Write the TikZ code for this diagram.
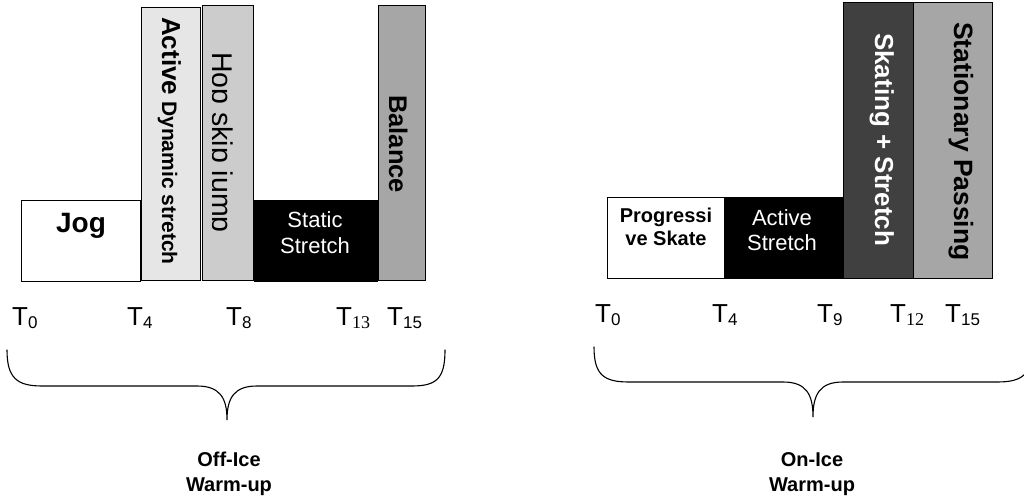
\documentclass[tikz,border=0pt]{standalone}
\usepackage{fontspec}
\setmainfont{Liberation Sans}
\newfontfamily\serifT{Liberation Serif}
\newcommand\tlab[1]{T\raisebox{-3pt}{\fontsize{17}{17}\selectfont #1}}
\newcommand\tlabs[1]{T\raisebox{-3pt}{\fontsize{18}{18}\selectfont\serifT #1}}
\definecolor{lightbar}{HTML}{E6E6E6}
\definecolor{midbar}{HTML}{CCCCCC}
\definecolor{greybar}{HTML}{A6A6A6}
\definecolor{darkbar}{HTML}{404040}
\begin{document}
\begin{tikzpicture}[x=1pt,y=-1pt,
  bar/.style={draw=black, line width=1.3pt, inner sep=0pt, anchor=north west},
  txt/.style={inner sep=0pt, align=center},
  vtxt/.style={inner sep=0pt, rotate=-90, anchor=base west},
  tl/.style={inner sep=0pt, anchor=base west, font=\fontsize{26}{30}\selectfont},
  brace/.style={line width=1.1pt, line cap=round}]
\useasboundingbox (0,0) rectangle (1024,502);

% ---------- Off-ice ----------
\node[bar, fill=white, minimum width=119pt, minimum height=81pt] (jog) at (21,200) {};
\node[bar, fill=lightbar, minimum width=59pt, minimum height=273pt] (ads) at (141,7) {};
\node[bar, fill=midbar, minimum width=51pt, minimum height=275pt] (hsj) at (202,5) {};
\node[bar, fill=black, minimum width=123pt, minimum height=81pt] (sst) at (254,200) {};
\node[bar, fill=greybar, minimum width=47pt, minimum height=275pt] (bal) at (378,5) {};

\node[txt, anchor=base, font=\fontsize{28}{32}\selectfont\bfseries] (jogt) at (81,233) {Jog};
\node[vtxt, font=\bfseries] (adst) at (162,17) {{\fontsize{26}{30}\selectfont Active}\hspace{6pt}{\fontsize{21}{25}\selectfont Dynamic stretch}};
\begin{scope}
  \clip (212,0) rectangle (252,280);
  \node[vtxt, font=\fontsize{28.5}{32}\selectfont] (hsjt) at (212,52) {Hop skip jump};
\end{scope}
\node[txt, text=white, font=\fontsize{22}{26}\selectfont] (sstt) at (315,233) {Static\\Stretch};
\node[vtxt, font=\fontsize{25.5}{30}\selectfont\bfseries] (balt) at (389,95) {Balance};

\node[tl] (la0) at (12,325) {\tlab{0}};
\node[tl] (la4) at (127,325) {\tlab{4}};
\node[tl] (la8) at (226,325) {\tlab{8}};
\node[tl] (la13) at (336,325) {\tlabs{13}};
\node[tl] (la15) at (387,325) {\tlab{15}};

\coordinate (lb1) at (7,350);
\coordinate (lbtip) at (227,420);
\coordinate (lb2) at (445,350);
\draw[brace] (lb1) .. controls (7,378) and (17,386) .. (42,386) -- (197,386)
  .. controls (220,386) and (227,398) .. (lbtip)
  .. controls (227,398) and (234,386) .. (257,386) -- (412,386)
  .. controls (437,386) and (445,378) .. (lb2);
\node[txt, font=\fontsize{20}{25}\selectfont\bfseries] (offl) at (229,474) {Off-Ice\\Warm-up};

% ---------- On-ice ----------
\node[bar, fill=white, minimum width=117pt, minimum height=81pt] (prog) at (607,197) {};
\node[bar, fill=black, minimum width=119pt, minimum height=81pt] (acts) at (724,197) {};
\node[bar, fill=darkbar, minimum width=70pt, minimum height=276pt] (skst) at (843,2) {};
\node[bar, fill=greybar, minimum width=79pt, minimum height=276pt] (stps) at (913,2) {};

\node[txt, font=\fontsize{20}{23}\selectfont\bfseries] (progt) at (666,227) {Progressi\\ve Skate};
\node[txt, text=white, font=\fontsize{22}{25}\selectfont] (actst) at (782,230) {Active\\Stretch};
\node[vtxt, text=white, font=\fontsize{26}{30}\selectfont\bfseries] (skstt) at (875,33) {Skating + Stretch};
\node[vtxt, font=\fontsize{26.5}{30}\selectfont\bfseries] (stpst) at (954,22) {Stationary Passing};

\node[tl] (lr0) at (595,322) {\tlab{0}};
\node[tl] (lr4) at (712,322) {\tlab{4}};
\node[tl] (lr9) at (817,322) {\tlab{9}};
\node[tl] (lr12) at (890,322) {\tlabs{12}};
\node[tl] (lr15) at (945,322) {\tlab{15}};

\coordinate (rb1) at (594,347);
\coordinate (rbtip) at (813,417);
\coordinate (rb2) at (1032,347);
\draw[brace] (rb1) .. controls (594,375) and (604,382) .. (629,382) -- (783,382)
  .. controls (806,382) and (813,394) .. (rbtip)
  .. controls (813,394) and (820,382) .. (843,382) -- (997,382)
  .. controls (1022,382) and (1032,375) .. (rb2);
\node[txt, font=\fontsize{20}{25}\selectfont\bfseries] (onl) at (812,474) {On-Ice\\Warm-up};
\end{tikzpicture}
\end{document}
